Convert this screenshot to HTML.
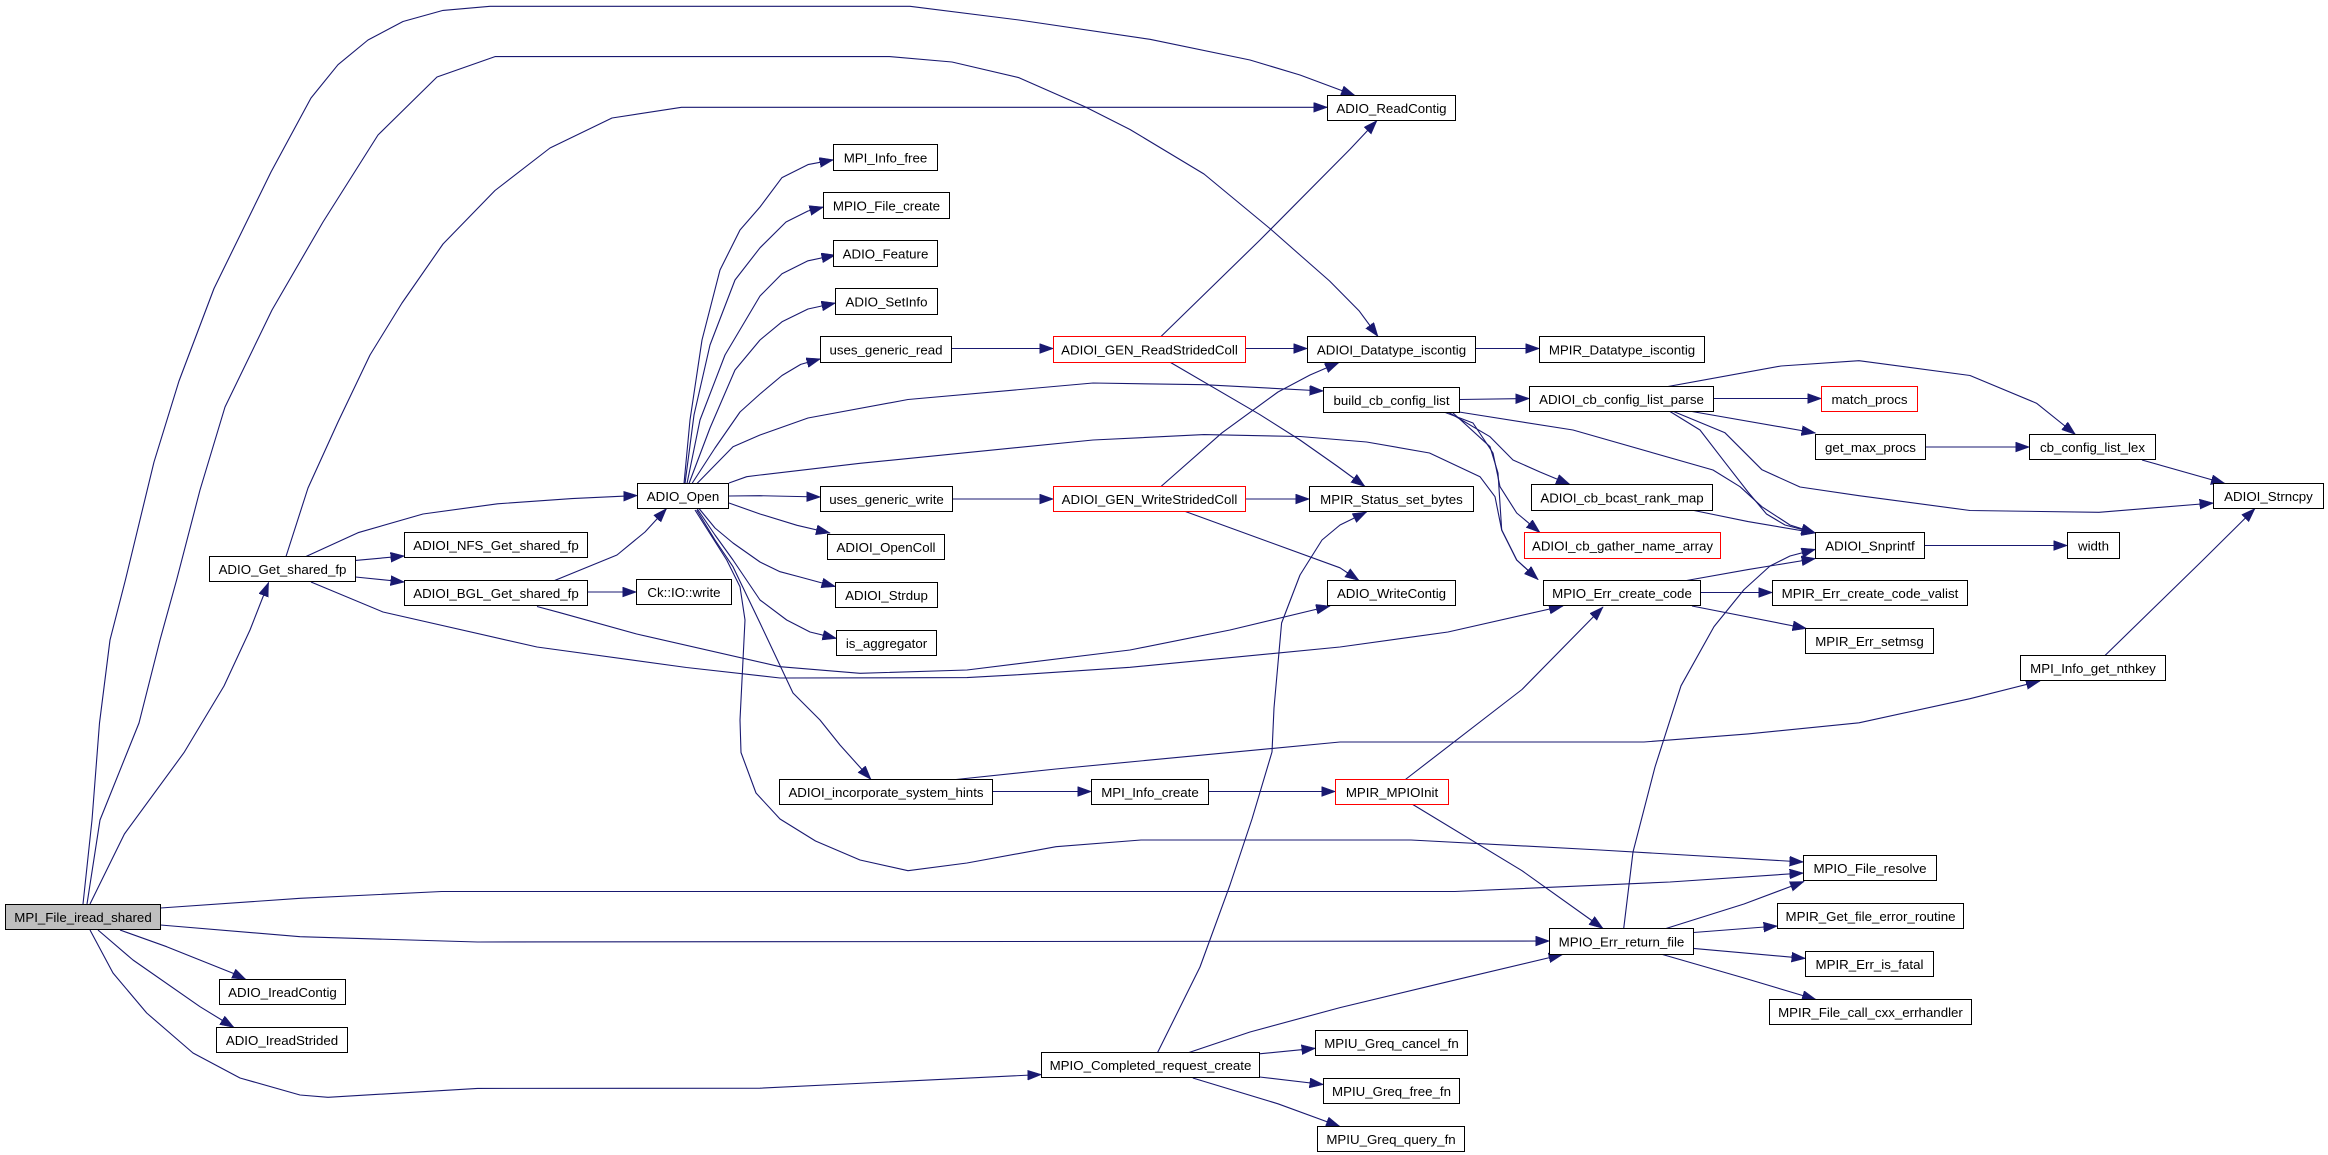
<!DOCTYPE html>
<html>
<head>
<meta charset="utf-8">
<style>
  html, body { margin: 0; padding: 0; background: #ffffff; }
  svg { display: block; }
  .n rect { fill: #ffffff; stroke: #000000; stroke-width: 1; }
  .n rect.r { stroke: #ff0000; }
  .n rect.g { fill: #bfbfbf; }
  text { font-family: "Liberation Sans", Arial, sans-serif; font-size: 13.3px; fill: #000; text-anchor: middle; }
  .e { fill: none; stroke: #191970; stroke-width: 1.1; stroke-linejoin: round; marker-end: url(#a); }
</style>
</head>
<body>
<svg width="2328" height="1155" viewBox="0 0 2328 1155" xmlns="http://www.w3.org/2000/svg">
<defs>
  <marker id="a" markerWidth="16" markerHeight="12" refX="14" refY="5" orient="auto" markerUnits="userSpaceOnUse">
    <path d="M0,0 L14,5 L0,10 z" fill="#191970" stroke="#191970" stroke-width="0.5"/>
  </marker>
</defs>

<!-- edges -->
<g>
<path class="e" d="M83,904 L92,820 L99.5,723 L110,640 L125.4,580 L154,462 L179,381 L214,288.5 L271,172 L311,98 L338,64.7 L368,40 L403,21.5 L443,10.4 L490,6.3 L910,6.3 L1019,20 L1150,39.3 L1250,60 L1300,75 L1355,95.5"/>
<path class="e" d="M87,904 L100,820 L139,723 L160,640 L176.6,580 L200,490 L225,407 L272,310 L323,222 L378,135 L437,77 L495,56.6 L889.5,56.6 L952,62 L1019,77.7 L1085.5,107 L1130,129.5 L1204,174 L1270.5,229 L1300,255 L1329.6,281 L1359,310.7 L1378,336.5"/>
<path class="e" d="M90,904 L124.4,834 L184,752.6 L224,686 L250,630 L268.6,582.5"/>
<path class="e" d="M160.5,908 L300,898.3 L441.7,891.5 L1455,891.5 L1670,882 L1803.5,873"/>
<path class="e" d="M160.5,925 L300,936.7 L477.5,942 L1549.5,941"/>
<path class="e" d="M120,930 L166.7,946.7 L233,973.3 L246,979.5"/>
<path class="e" d="M98,930 L133,960 L200,1006.7 L234,1027.5"/>
<path class="e" d="M90,930 L113,973 L146.7,1013 L193,1053 L240,1078 L300,1095 L328,1097.3 L477.5,1088.4 L760,1088.2 L1041.5,1074.5"/>

<path class="e" d="M286,556.5 L308,488 L338,422 L370,355 L402,303 L443,244 L495,190.5 L550,148 L612,118 L681.5,107.3 L1327.5,107.3"/>
<path class="e" d="M306,556.5 L358,532.7 L423,514 L497.5,503.8 L572,498.6 L637.5,495.5"/>
<path class="e" d="M355.5,560.4 L404.5,556"/>
<path class="e" d="M355.5,577 L404.5,582"/>
<path class="e" d="M311,582 L383,612 L537,647 L686.5,667.5 L780,678 L967,677.6 L1019,674.7 L1130,667.3 L1340,647 L1448,632 L1563,606"/>
<path class="e" d="M554.6,580.5 L617,555 L645,532 L666.6,508.5"/>
<path class="e" d="M587.5,592 L636.5,592"/>
<path class="e" d="M537,606.5 L560,612.7 L636.7,634 L780,666.7 L860,673.3 L967,670 L1130,650 L1230,630 L1330,606"/>

<path class="e" d="M684,483.5 L690,420 L702,340 L720,270 L740,230 L760,207 L782,177.6 L808,164.6 L833.5,159.8"/>
<path class="e" d="M685,483.5 L694,415 L710,345 L735,280 L760,247.8 L786,222 L808,211 L823.5,207"/>
<path class="e" d="M687,483.5 L700,420 L725,355 L760,296 L782,273.7 L808,260.8 L835.5,255"/>
<path class="e" d="M689,483.5 L710,428 L735,370 L760,340 L782,321.8 L808,309 L835.5,303"/>
<path class="e" d="M692,483.5 L715,448 L740,412 L760,394 L782,375.5 L800.7,364.4 L820.5,358.8"/>
<path class="e" d="M697,483.5 L733,446.7 L760,435 L808,418 L908,399.5 L1093,383 L1204,384.7 L1323.5,391"/>
<path class="e" d="M729,483 L746.7,476.7 L760,475 L860,463.3 L1093,440 L1204,434.6 L1300,436.5 L1366.6,442 L1429.5,453 L1480,476.7 L1495,496.7 L1501.7,530 L1516.7,560 L1538,579.5"/>
<path class="e" d="M729,496 L760,495.7 L820.5,497"/>
<path class="e" d="M729,503 L760,514 L797,525.3 L830,533"/>
<path class="e" d="M699,508.5 L715,528 L733,543 L760,562 L780,571.7 L800,577 L835.5,586.6"/>
<path class="e" d="M697,508.5 L715,535 L733,560 L760,600 L786.7,620 L810,632 L836.5,638.4"/>
<path class="e" d="M696.7,510 L715,540 L733,566.7 L760,623 L793,693 L820,720 L840,745 L871,779.5"/>
<path class="e" d="M695,510 L726.7,560 L740,586.7 L745,620 L740,720 L741,752.5 L756,793 L780,819 L815.5,841 L860,860 L908,870.7 L967,863 L1056,846.7 L1141,840 L1411,840 L1600,850 L1803.5,862"/>

<path class="e" d="M951.5,348.5 L1053.5,348.5"/>
<path class="e" d="M1245.5,348.5 L1307.5,348.5"/>
<path class="e" d="M1161,336.5 L1260,240 L1350,149.3 L1377,120.5"/>
<path class="e" d="M1170.6,362.5 L1259.4,414.3 L1300,440 L1337,466 L1365,486.5"/>
<path class="e" d="M952.5,499 L1053.5,499"/>
<path class="e" d="M1245.5,499 L1309.5,499"/>
<path class="e" d="M1161,486.5 L1222,432.8 L1278,392 L1310,375 L1339,362.5"/>
<path class="e" d="M1185.4,511.5 L1340,567.8 L1359,580.5"/>
<path class="e" d="M1475.5,348.5 L1539.5,348.5"/>

<path class="e" d="M1459.5,399.5 L1529.5,398.5"/>
<path class="e" d="M1448,412 L1490,436.7 L1513,460 L1540,472 L1570,484.5"/>
<path class="e" d="M1444,412 L1473,423 L1493,453 L1500,486.7 L1516.7,513 L1540,532.5"/>
<path class="e" d="M1452,412 L1490,446.7 L1498,473 L1501.7,530 L1516.7,560 L1538,579.5"/>
<path class="e" d="M1459,412 L1573,430 L1713,470 L1740,486.7 L1762,506.8 L1790,525 L1815.5,533"/>

<path class="e" d="M1713.5,398.5 L1821.5,398.5"/>
<path class="e" d="M1692,411.5 L1815.5,433"/>
<path class="e" d="M1668,386.5 L1781,366 L1859,360.7 L1970,375.5 L2036.5,403.2 L2075.5,434.5"/>
<path class="e" d="M1673.6,411.5 L1725,432.8 L1762,469.8 L1800,487 L1859,495.7 L1970,510.5 L2099,512.3 L2213.5,503"/>
<path class="e" d="M1670,411.5 L1700,430 L1725,462.4 L1748,492 L1766.5,514 L1785,525 L1815.5,533"/>
<path class="e" d="M1925.5,447 L2029.5,447"/>
<path class="e" d="M2142,460 L2225,483.5"/>
<path class="e" d="M1924.5,545.5 L2067.5,545.5"/>
<path class="e" d="M1694,510.5 L1748,521.6 L1815.5,533"/>
<path class="e" d="M1686.6,580.5 L1748,569.6 L1815.5,558.5"/>
<path class="e" d="M1623.7,928.5 L1633,852 L1655,767 L1681,685.8 L1714,626.6 L1744,589.6 L1770,566 L1790,556 L1815.5,549.3"/>
<path class="e" d="M1700.5,592.5 L1772.5,592.5"/>
<path class="e" d="M1692,606 L1806.5,628.5"/>
<path class="e" d="M1405.4,779.5 L1522,689.5 L1603,607"/>
<path class="e" d="M1412.8,804.5 L1522,870.7 L1603,928.5"/>
<path class="e" d="M1208.5,791.5 L1335.5,791.5"/>
<path class="e" d="M992.5,791.5 L1091.5,791.5"/>
<path class="e" d="M956,779.5 L1056,769 L1340,742 L1644,742 L1748,733.9 L1859,722.8 L1970,698.7 L2040,681"/>
<path class="e" d="M2105,655.5 L2203,560 L2255,508.5"/>
<path class="e" d="M1666,928.5 L1744,904 L1804,881.5"/>
<path class="e" d="M1693.5,932.5 L1777.5,926"/>
<path class="e" d="M1693.5,948.4 L1805.5,958.4"/>
<path class="e" d="M1662.5,954.5 L1744,978 L1816,999.5"/>
<path class="e" d="M1189,1052.5 L1250,1032 L1340,1007.6 L1448,981.7 L1562.6,954.5"/>
<path class="e" d="M1259.5,1053.8 L1315.5,1048.3"/>
<path class="e" d="M1259.5,1077 L1323.5,1084.5"/>
<path class="e" d="M1192.8,1078 L1278,1103.8 L1340,1126.5"/>
<path class="e" d="M1157.6,1052.5 L1200,967 L1229.8,885.5 L1252,819 L1272,752 L1274,708 L1281.6,623 L1300,575 L1322,540 L1340,525 L1366.6,512"/>
</g>

<!-- nodes -->
<g class="n">
<rect class="g" x="5.5" y="904.5" width="155" height="25"/><text x="83" y="922">MPI_File_iread_shared</text>
<rect x="209.5" y="556.5" width="146" height="25"/><text x="282.5" y="574">ADIO_Get_shared_fp</text>
<rect x="404.5" y="532.5" width="183" height="25"/><text x="496" y="550">ADIOI_NFS_Get_shared_fp</text>
<rect x="404.5" y="580.5" width="183" height="25"/><text x="496" y="598">ADIOI_BGL_Get_shared_fp</text>
<rect x="636.5" y="579.5" width="95" height="25"/><text x="684" y="597">Ck::IO::write</text>
<rect x="637.5" y="483.5" width="91" height="25"/><text x="683" y="501">ADIO_Open</text>
<rect x="219.5" y="979.5" width="126" height="25"/><text x="282.5" y="997">ADIO_IreadContig</text>
<rect x="216.5" y="1027.5" width="131" height="25"/><text x="282" y="1045">ADIO_IreadStrided</text>
<rect x="833.5" y="144.5" width="104" height="26"/><text x="885.5" y="162.5">MPI_Info_free</text>
<rect x="823.5" y="192.5" width="126" height="26"/><text x="886.5" y="210.5">MPIO_File_create</text>
<rect x="833.5" y="240.5" width="104" height="26"/><text x="885.5" y="258.5">ADIO_Feature</text>
<rect x="835.5" y="288.5" width="102" height="26"/><text x="886.5" y="306.5">ADIO_SetInfo</text>
<rect x="820.5" y="336.5" width="131" height="26"/><text x="886" y="354.5">uses_generic_read</text>
<rect class="r" x="1053.5" y="336.5" width="192" height="26"/><text x="1149.5" y="354.5">ADIOI_GEN_ReadStridedColl</text>
<rect x="820.5" y="486.5" width="132" height="25"/><text x="886.5" y="504">uses_generic_write</text>
<rect class="r" x="1053.5" y="486.5" width="192" height="25"/><text x="1149.5" y="504">ADIOI_GEN_WriteStridedColl</text>
<rect x="827.5" y="534.5" width="117" height="25"/><text x="886" y="552">ADIOI_OpenColl</text>
<rect x="835.5" y="582.5" width="102" height="25"/><text x="886.5" y="600">ADIOI_Strdup</text>
<rect x="836.5" y="630.5" width="100" height="25"/><text x="886.5" y="648">is_aggregator</text>
<rect x="779.5" y="779.5" width="213" height="25"/><text x="886" y="797">ADIOI_incorporate_system_hints</text>
<rect x="1091.5" y="779.5" width="117" height="25"/><text x="1150" y="797">MPI_Info_create</text>
<rect class="r" x="1335.5" y="779.5" width="113" height="25"/><text x="1392" y="797">MPIR_MPIOInit</text>
<rect x="1041.5" y="1052.5" width="218" height="25"/><text x="1150.5" y="1070">MPIO_Completed_request_create</text>
<rect x="1315.5" y="1030.5" width="152" height="25"/><text x="1391.5" y="1048">MPIU_Greq_cancel_fn</text>
<rect x="1323.5" y="1078.5" width="136" height="25"/><text x="1391.5" y="1096">MPIU_Greq_free_fn</text>
<rect x="1317.5" y="1126.5" width="147" height="25"/><text x="1391" y="1144">MPIU_Greq_query_fn</text>
<rect x="1327.5" y="95.5" width="128" height="25"/><text x="1391.5" y="113">ADIO_ReadContig</text>
<rect x="1307.5" y="336.5" width="168" height="26"/><text x="1391.5" y="354.5">ADIOI_Datatype_iscontig</text>
<rect x="1539.5" y="336.5" width="165" height="26"/><text x="1622" y="354.5">MPIR_Datatype_iscontig</text>
<rect x="1323.5" y="387.5" width="136" height="25"/><text x="1391.5" y="405">build_cb_config_list</text>
<rect x="1529.5" y="386.5" width="184" height="25"/><text x="1621.5" y="404">ADIOI_cb_config_list_parse</text>
<rect class="r" x="1821.5" y="386.5" width="96" height="25"/><text x="1869.5" y="404">match_procs</text>
<rect x="1815.5" y="434.5" width="110" height="25"/><text x="1870.5" y="452">get_max_procs</text>
<rect x="2029.5" y="434.5" width="126" height="25"/><text x="2092.5" y="452">cb_config_list_lex</text>
<rect x="2213.5" y="483.5" width="110" height="25"/><text x="2268.5" y="501">ADIOI_Strncpy</text>
<rect x="1309.5" y="486.5" width="164" height="25"/><text x="1391.5" y="504">MPIR_Status_set_bytes</text>
<rect x="1531.5" y="484.5" width="181" height="26"/><text x="1622" y="502.5">ADIOI_cb_bcast_rank_map</text>
<rect class="r" x="1524.5" y="532.5" width="196" height="26"/><text x="1622.5" y="550.5">ADIOI_cb_gather_name_array</text>
<rect x="1815.5" y="532.5" width="109" height="26"/><text x="1870" y="550.5">ADIOI_Snprintf</text>
<rect x="2067.5" y="532.5" width="52" height="26"/><text x="2093.5" y="550.5">width</text>
<rect x="1327.5" y="580.5" width="128" height="25"/><text x="1391.5" y="598">ADIO_WriteContig</text>
<rect x="1543.5" y="580.5" width="157" height="25"/><text x="1622" y="598">MPIO_Err_create_code</text>
<rect x="1772.5" y="580.5" width="195" height="25"/><text x="1870" y="598">MPIR_Err_create_code_valist</text>
<rect x="1805.5" y="628.5" width="128" height="25"/><text x="1869.5" y="646">MPIR_Err_setmsg</text>
<rect x="2020.5" y="655.5" width="145" height="25"/><text x="2093" y="673">MPI_Info_get_nthkey</text>
<rect x="1803.5" y="855.5" width="133" height="25"/><text x="1870" y="873">MPIO_File_resolve</text>
<rect x="1549.5" y="928.5" width="144" height="26"/><text x="1621.5" y="946.5">MPIO_Err_return_file</text>
<rect x="1777.5" y="903.5" width="186" height="25"/><text x="1870.5" y="921">MPIR_Get_file_error_routine</text>
<rect x="1805.5" y="951.5" width="128" height="25"/><text x="1869.5" y="969">MPIR_Err_is_fatal</text>
<rect x="1769.5" y="999.5" width="202" height="25"/><text x="1870.5" y="1017">MPIR_File_call_cxx_errhandler</text>
</g>
</svg>
</body>
</html>
